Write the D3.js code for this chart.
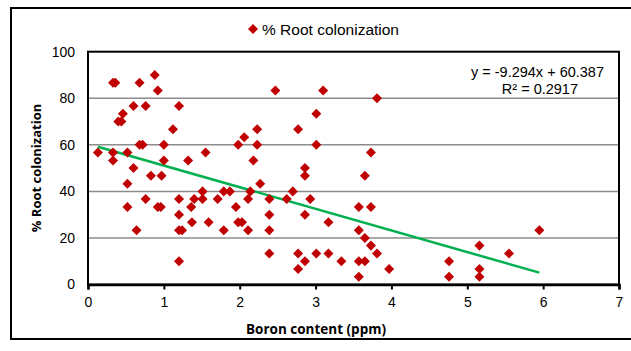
<!DOCTYPE html>
<html><head><meta charset="utf-8">
<script src="https://cdn.jsdelivr.net/npm/d3@7"></script>
<style>body{margin:0;background:#fff}svg{display:block}</style>
</head><body>
<script>
// Data (Boron ppm, % root colonization)
const boron = [0.13,0.33,0.36,0.68,0.88,0.92,0.60,0.76,1.20,0.46,0.40,0.44,1.12,0.68,0.72,1.00,0.33,0.33,0.52,1.00,1.32,0.60,0.83,0.97,0.52,0.76,0.52,0.92,0.96,1.20,1.40,1.36,1.20,1.37,0.64,1.20,1.24,1.20,
  2.47,2.23,2.06,1.98,2.23,2.77,1.55,2.18,2.27,1.51,1.51,1.71,1.79,1.87,2.14,2.11,2.39,2.62,2.70,1.95,2.39,1.59,1.98,2.03,1.79,2.11,2.39,2.39,2.77,2.77,
  3.10,3.81,3.01,3.01,3.73,2.86,2.86,3.65,2.93,3.57,3.73,2.86,3.17,3.57,3.65,3.73,3.81,2.86,3.01,3.17,3.34,3.57,3.65,3.57,3.97,
  5.95,5.16,5.55,4.76,5.16,4.76,5.16];
const colonization = [56.7,86.7,86.7,86.7,90,83.3,76.7,76.7,76.7,73.3,70,70,66.7,60,60,60,56.7,53.3,56.7,53.3,53.3,50,46.7,46.7,43.3,36.7,33.3,33.3,33.3,36.7,36.7,33.3,30,26.7,23.3,23.3,23.3,10,
  83.3,66.7,63.3,60,60,66.7,56.7,53.3,43.3,40,36.7,36.7,40,40,40,36.7,36.7,36.7,40,33.3,30,26.7,26.7,26.7,23.3,23.3,23.3,13.3,13.3,6.7,
  83.3,80,73.3,60,56.7,50,46.7,46.7,36.7,33.3,33.3,30,26.7,23.3,20,16.7,13.3,10,13.3,13.3,10,10,10,3.3,6.7,
  23.3,16.7,13.3,10,6.7,3.3,3.3];
const xTicks = [0,1,2,3,4,5,6,7];
const yTicks = [0,20,40,60,80,100];
const slope = -9.294, intercept = 60.387;
const equationText = "y = -9.294x + 60.387";
const r2Text = "R\u00b2 = 0.2917";
const seriesName = "% Root colonization";
const xTitle = "Boron content (ppm)";
const yTitle = "% Root colonization";

const W = 631, H = 351;
const svg = d3.select("body").append("svg").attr("width", W).attr("height", H);
const x = d3.scaleLinear().domain([0,7]).range([88,619]);
const y = d3.scaleLinear().domain([0,100]).range([284.5,51.7]);
const red = "#C00000";
const sans = "Liberation Sans, Arial, sans-serif";

// outer frame
svg.append("rect").attr("x",11).attr("y",8).attr("width",640).attr("height",331)
  .attr("fill","none").attr("stroke","#000").attr("stroke-width",2);

// gridlines
svg.append("g").selectAll("line").data(yTicks.filter(d=>d>0&&d<100)).join("line")
  .attr("x1",x(0)).attr("x2",x(7)).attr("y1",d=>y(d)).attr("y2",d=>y(d))
  .attr("stroke","#8c8c8c").attr("stroke-width",1.5);

// plot border
svg.append("rect").attr("x",x(0)).attr("y",y(100)).attr("width",x(7)-x(0)).attr("height",y(0)-y(100))
  .attr("fill","none").attr("stroke","#000").attr("stroke-width",2);

// x axis
const xAxis = svg.append("g").attr("transform",`translate(0,${y(0)})`)
  .call(d3.axisBottom(x).tickValues(xTicks).tickSize(5).tickPadding(8).tickFormat(d3.format("d")));
xAxis.select(".domain").attr("stroke","#000").attr("stroke-width",2.5);
xAxis.selectAll(".tick line").attr("stroke","#000").attr("stroke-width",2);
xAxis.selectAll("text").attr("font-family",sans).attr("font-size",14).attr("fill","#000");

// y axis labels
const yAxis = svg.append("g").attr("transform",`translate(${x(0)},0)`)
  .call(d3.axisLeft(y).tickValues(yTicks).tickSize(0).tickPadding(13));
yAxis.select(".domain").remove();
yAxis.selectAll("text").attr("font-family",sans).attr("font-size",14).attr("fill","#000");

// trend line
const xr = d3.extent(boron);
svg.append("line").attr("x1",x(xr[0])).attr("y1",y(slope*xr[0]+intercept))
  .attr("x2",x(xr[1])).attr("y2",y(slope*xr[1]+intercept))
  .attr("stroke","#00B050").attr("stroke-width",2.5);

// points
const diamond = d3.symbol().type(d3.symbolDiamond2).size(64);
svg.append("g").selectAll("path").data(boron.map((b,i)=>[b,colonization[i]])).join("path")
  .attr("d",diamond).attr("transform",d=>`translate(${x(d[0])},${y(d[1])})`).attr("fill",red);

// equation
svg.append("text").attr("x",604).attr("y",77).attr("text-anchor","end")
  .attr("font-family",sans).attr("font-size",14.5).text(equationText);
svg.append("text").attr("x",578).attr("y",94).attr("text-anchor","end")
  .attr("font-family",sans).attr("font-size",14.5).text(r2Text);

// legend
svg.append("path").attr("d",d3.symbol().type(d3.symbolDiamond2).size(64)).attr("transform","translate(253,29)").attr("fill",red);
svg.append("text").attr("x",262).attr("y",34.5).attr("font-family",sans).attr("font-size",15.5).text(seriesName);

// titles
svg.append("text").attr("x",316).attr("y",334).attr("text-anchor","middle")
  .attr("font-family","Open Sans, sans-serif").attr("font-weight","bold").attr("font-size",13.5).text(xTitle);
svg.append("text").attr("transform","translate(41,168) rotate(-90)").attr("text-anchor","middle")
  .attr("font-family","Open Sans, sans-serif").attr("font-weight","bold").attr("font-size",13).text(yTitle);
</script>
</body></html>
